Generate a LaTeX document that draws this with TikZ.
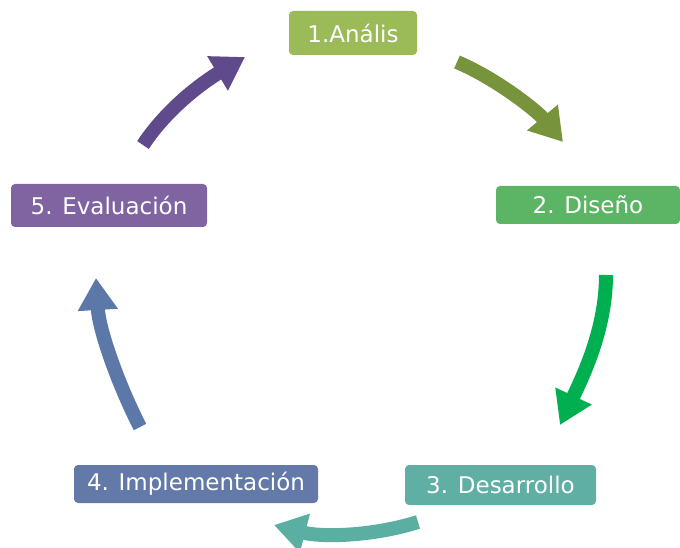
\documentclass[tikz,border=0pt]{standalone}
\usepackage{fontspec}
\setmainfont{DejaVu Sans}
\usetikzlibrary{arrows.meta}
\definecolor{cA}{HTML}{9BBB59}
\definecolor{cB}{HTML}{5CB465}
\definecolor{cC}{HTML}{5FAFA5}
\definecolor{cD}{HTML}{6379A8}
\definecolor{cE}{HTML}{8064A2}
\definecolor{aA}{HTML}{77933C}
\definecolor{aB}{HTML}{00B050}
\definecolor{aC}{HTML}{5AAFA2}
\definecolor{aD}{HTML}{5B78A8}
\definecolor{aE}{HTML}{5F4B8B}
\tikzset{
  stagebox/.style={rounded corners=4pt, text=white, inner sep=0pt,
    font=\fontsize{23}{26}\selectfont},
  cyclearrow/.style={line width=14pt, -{Triangle[width=38pt,length=32pt]}}
}
\begin{document}
\begin{tikzpicture}[x=1pt,y=-1pt]
\useasboundingbox (0,0) rectangle (680,548);
\node[stagebox, fill=cA, minimum width=128pt, minimum height=44pt] (n1) at (353,33) {1.Anális};
\node[stagebox, fill=cB, minimum width=184pt, minimum height=38pt] (n2) at (588,205) {2. Diseño};
\node[stagebox, fill=cC, minimum width=191pt, minimum height=40pt] (n3) at (500.5,485) {3. Desarrollo};
\node[stagebox, fill=cD, minimum width=244pt, minimum height=38pt] (n4) at (196,484) {4. Implementación};
\node[stagebox, fill=cE, minimum width=196pt, minimum height=43pt] (n5) at (109,205.5) {5. Evaluación};

\coordinate (a1s) at (457,62);  \coordinate (a1e) at (563,142);
\coordinate (a2s) at (606,275); \coordinate (a2e) at (560,425);
\coordinate (a3s) at (418,522); \coordinate (a3e) at (274,525);
\coordinate (a4s) at (140,427); \coordinate (a4e) at (96,278);
\coordinate (a5s) at (143,145); \coordinate (a5e) at (245,57);

\draw[cyclearrow, aA] (a1s) .. controls (497,79) and (537,111) .. (a1e);
\draw[cyclearrow, aB] (a2s) .. controls (606,330) and (582,378) .. (a2e);
\draw[cyclearrow, aC] (a3s) .. controls (370,537) and (320,537) .. (a3e);
\draw[cyclearrow, aD] (a4s) .. controls (118,384) and (99,330) .. (a4e);
\draw[cyclearrow, aE] (a5s) .. controls (168,107) and (205,81) .. (a5e);
\end{tikzpicture}
\end{document}
